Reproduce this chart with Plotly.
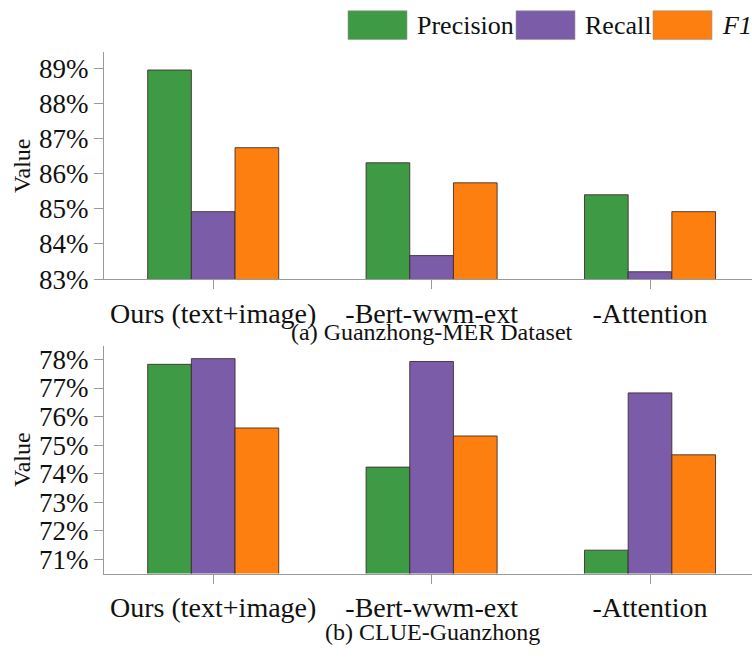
import plotly.graph_objects as go

# Ablation results (percent)
models = ["Ours (text+image)", "-Bert-wwm-ext", "-Attention"]
metrics = ["Precision", "Recall", "F1"]
metric_labels = ["Precision", "Recall", "<i>F1</i>"]
colors = ["#3f9a45", "#7b5ca8", "#fd7f0f"]

mer_precision = [88.95, 86.31, 85.40]
mer_recall = [84.92, 83.67, 83.21]
mer_f1 = [86.74, 85.74, 84.92]

clue_precision = [77.83, 74.23, 71.32]
clue_recall = [78.03, 77.93, 76.83]
clue_f1 = [75.60, 75.32, 74.66]

mer_ticks = [83, 84, 85, 86, 87, 88, 89]
clue_ticks = [71, 72, 73, 74, 75, 76, 77, 78]

FONT = "Liberation Serif"
AXIS_GRAY = "#9a9a9a"
TEXT = "#111111"

fig = go.Figure()
xpos = list(range(len(models)))

panels = [
    ("x", "y", [mer_precision, mer_recall, mer_f1]),
    ("x2", "y2", [clue_precision, clue_recall, clue_f1]),
]
for xa, ya, series in panels:
    for name, vals, col in zip(metrics, series, colors):
        fig.add_trace(go.Bar(
            x=xpos, y=vals, name=name, xaxis=xa, yaxis=ya,
            marker=dict(color=col, line=dict(color="rgba(60,40,40,0.85)", width=1)),
            showlegend=False,
        ))

x_dom = [104 / 752, 1.0]
common_x = dict(
    domain=x_dom, range=[-0.5, 2.467], tickmode="array", tickvals=xpos, ticktext=models,
    showline=True, linecolor=AXIS_GRAY, linewidth=1, ticks="outside", ticklen=9,
    tickcolor=AXIS_GRAY, showgrid=False, zeroline=False,
    tickfont=dict(family=FONT, size=28, color=TEXT),
)
common_y = dict(
    showline=True, linecolor=AXIS_GRAY, linewidth=1, ticks="outside", ticklen=9,
    tickcolor=AXIS_GRAY, showgrid=False, zeroline=False, tickmode="array",
    tickfont=dict(family=FONT, size=27, color=TEXT),
    title=dict(text="Value", font=dict(family=FONT, size=24, color=TEXT), standoff=1),
)

fig.update_layout(
    width=752, height=664,
    margin=dict(l=0, r=0, t=0, b=0),
    paper_bgcolor="white", plot_bgcolor="white",
    font=dict(family=FONT, color=TEXT),
    barmode="group", bargap=0.4, bargroupgap=0,
    xaxis=dict(anchor="y", **common_x),
    yaxis=dict(anchor="x", domain=[1 - 285 / 664, 1 - 52.7 / 664], range=[83, 89.45],
               tickvals=mer_ticks, ticktext=[f"{t}%" for t in mer_ticks], **common_y),
    xaxis2=dict(anchor="y2", **common_x),
    yaxis2=dict(anchor="x2", domain=[1 - 586.7 / 664, 1 - 353.3 / 664], range=[70.5, 78.48],
                tickvals=clue_ticks, ticktext=[f"{t}%" for t in clue_ticks], **common_y),
)

# Panel captions
fig.add_annotation(text="(a) Guanzhong-MER Dataset", xref="paper", yref="paper",
                   x=432 / 752, y=1 - 355 / 664, xanchor="center", yanchor="bottom",
                   showarrow=False, font=dict(family=FONT, size=24, color=TEXT))
fig.add_annotation(text="(b) CLUE-Guanzhong", xref="paper", yref="paper",
                   x=432 / 752, y=2 / 664, xanchor="center", yanchor="bottom",
                   showarrow=False, font=dict(family=FONT, size=24, color=TEXT))

# Legend: large swatches with labels to their right
swatch_x = [348, 516, 653]
for sx, label, col in zip(swatch_x, metric_labels, colors):
    fig.add_shape(type="rect", xref="paper", yref="paper",
                  x0=sx / 752, x1=(sx + 59) / 752, y0=1 - 39.5 / 664, y1=1 - 10 / 664,
                  fillcolor=col, line=dict(color="rgba(150,150,150,0.6)", width=1))
    fig.add_annotation(text=label, xref="paper", yref="paper",
                       x=(sx + 67) / 752, y=1 - 25 / 664, xanchor="left", yanchor="middle",
                       showarrow=False, font=dict(family=FONT, size=26, color=TEXT))

fig.write_html("out.html")
